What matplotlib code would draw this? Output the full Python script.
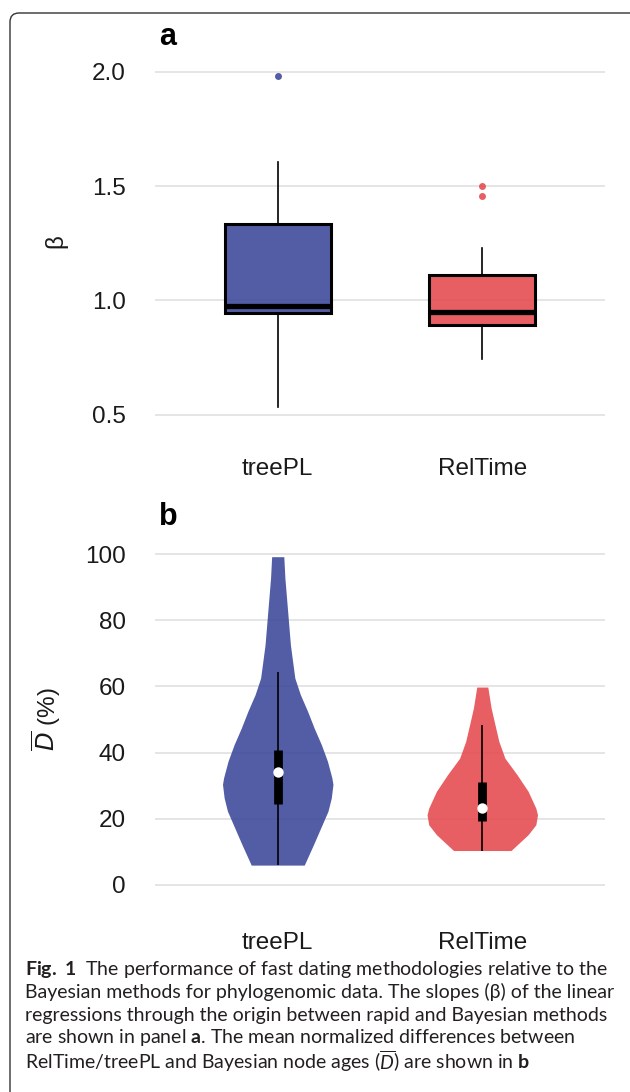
import matplotlib
matplotlib.use("Agg")
import matplotlib.pyplot as plt
from matplotlib.patches import FancyBboxPatch
from matplotlib.transforms import IdentityTransform

plt.rcParams['font.family'] = ['Liberation Sans', 'DejaVu Sans']
plt.rcParams['mathtext.fontset'] = 'custom'
plt.rcParams['mathtext.rm'] = 'Lato'
plt.rcParams['mathtext.it'] = 'Lato:italic'
plt.rcParams['mathtext.bf'] = 'Lato:bold'

groups = ['treePL', 'RelTime']
blue = '#3F4B9C'
red = '#E54C52'

# panel a: slopes (beta), box stats
beta_q1 = [0.945, 0.893]
beta_med = [0.975, 0.947]
beta_q3 = [1.335, 1.110]
beta_lo = [0.535, 0.745]
beta_hi = [1.605, 1.230]
beta_out = [[1.98], [1.502, 1.455]]

# panel b: violin outlines (value, relative density) + inner box stats
treepl_y = [6.0, 12.3, 17.3, 22.3, 26.3, 30.4, 32.4, 37.4, 42.4, 47.4,
            52.5, 57.5, 62.5, 72.5, 82.6, 92.7, 99.2]
treepl_dens = [0.48, 0.65, 0.78, 0.91, 0.97, 1.0, 0.98, 0.90, 0.79, 0.66,
               0.54, 0.41, 0.31, 0.23, 0.18, 0.13, 0.11]
reltime_y = [10.4, 15.2, 18.2, 21.2, 23.2, 28.3, 33.3, 38.3, 43.4, 48.4, 53.5, 59.8]
reltime_dens = [0.52, 0.83, 0.97, 1.0, 0.97, 0.83, 0.63, 0.41, 0.30, 0.23, 0.16, 0.10]
d_lo = [6.0, 10.2]
d_q1 = [24.5, 19.2]
d_med = [34.0, 23.2]
d_q3 = [40.7, 31.1]
d_hi = [64.5, 48.2]

caption = [
    r"$\mathbf{Fig.\ 1}$  The performance of fast dating methodologies relative to the",
    "Bayesian methods for phylogenomic data. The slopes (\u03b2) of the linear",
    "regressions through the origin between rapid and Bayesian methods",
    r"are shown in panel $\mathbf{a}$. The mean normalized differences between",
    r"RelTime/treePL and Bayesian node ages ($\overline{D}$) are shown in $\mathbf{b}$",
]

W, H = 630, 1092
fig = plt.figure(figsize=(W / 100, H / 100), dpi=100)


def px_axes(left, top, right, bottom):
    return fig.add_axes([left / W, 1 - bottom / H, (right - left) / W, (bottom - top) / H])


def style(ax):
    for s in ax.spines.values():
        s.set_visible(False)
    ax.set_axisbelow(True)
    ax.grid(axis='y', color='#DEDEDE', lw=1.1)
    ax.tick_params(length=0, labelsize=17.5, colors='#1a1a1a')
    ax.tick_params(axis='y', pad=21)


def set_x(ax):
    ax.set_xlim(0.4, 2.6)
    ax.set_xticks([1, 2])
    ax.set_xticklabels(groups)


# ---- panel a
ax = px_axes(155, 60, 605, 423)
style(ax)
ax.tick_params(axis='x', pad=25)
stats = []
for i in range(2):
    stats.append(dict(med=beta_med[i], q1=beta_q1[i], q3=beta_q3[i],
                      whislo=beta_lo[i], whishi=beta_hi[i], fliers=beta_out[i]))
bp = ax.bxp(stats, positions=[1, 2], widths=0.52, patch_artist=True, showcaps=False,
            manage_ticks=False,
            boxprops=dict(lw=2.2, edgecolor='black'),
            whiskerprops=dict(lw=1.2, color='black'),
            medianprops=dict(lw=3.8, color='black', solid_capstyle='butt'),
            flierprops=dict(marker='o', markersize=5, markeredgewidth=0))
for patch, c in zip(bp['boxes'], [blue, red]):
    patch.set_facecolor(matplotlib.colors.to_rgba(c, 0.9))
for fl, c in zip(bp['fliers'], [blue, red]):
    fl.set_markerfacecolor(matplotlib.colors.to_rgba(c, 0.9))
set_x(ax)
ax.set_ylim(0.463, 2.052)
ax.set_yticks([0.5, 1.0, 1.5, 2.0])
ax.set_yticklabels(['0.5', '1.0', '1.5', '2.0'])
ax.set_ylabel('\u03b2', fontsize=17.5, color='#1a1a1a')
ax.yaxis.set_label_coords(-0.195, 0.5)
fig.text(159 / W, 1 - 37 / H, 'a', fontsize=22, fontweight='bold', va='center')

# ---- panel b
ax = px_axes(155, 537.5, 605, 901.5)
style(ax)
ax.tick_params(axis='x', pad=22)
half = 0.27
for pos, ys, ds, c in [(1, treepl_y, treepl_dens, blue), (2, reltime_y, reltime_dens, red)]:
    left = [pos - half * d for d in ds]
    right = [pos + half * d for d in ds]
    ax.fill_betweenx(ys, left, right, color=c, alpha=0.9, lw=0)
ax.vlines([1, 2], d_lo, d_hi, color='black', lw=1.2)
ax.vlines([1, 2], d_q1, d_q3, color='black', lw=6.3, capstyle='butt')
ax.scatter([1, 2], d_med, s=56, color='white', zorder=5, lw=0)
set_x(ax)
ax.set_ylim(-5, 105)
ax.set_yticks([0, 20, 40, 60, 80, 100])
ax.set_ylabel(r'$\overline{D}$ (%)', fontsize=17.5, color='#1a1a1a', math_fontfamily='dejavusans')
ax.yaxis.set_label_coords(-0.205, 0.5)
fig.text(159 / W, 1 - 517 / H, 'b', fontsize=22, fontweight='bold', va='center')

# ---- caption
for i, line in enumerate(caption):
    fig.text(25 / W, 1 - (969 + 23 * i) / H, line, fontsize=14, family='Lato',
             va='center', color='#231f20')

# rounded frame
frame = FancyBboxPatch((10, -30), 630, 1079 + 30, boxstyle='round,pad=0,rounding_size=9',
                       transform=IdentityTransform(), fill=False, edgecolor='#333333', lw=1)
fig.add_artist(frame)

fig.savefig('out.png', dpi=100)
